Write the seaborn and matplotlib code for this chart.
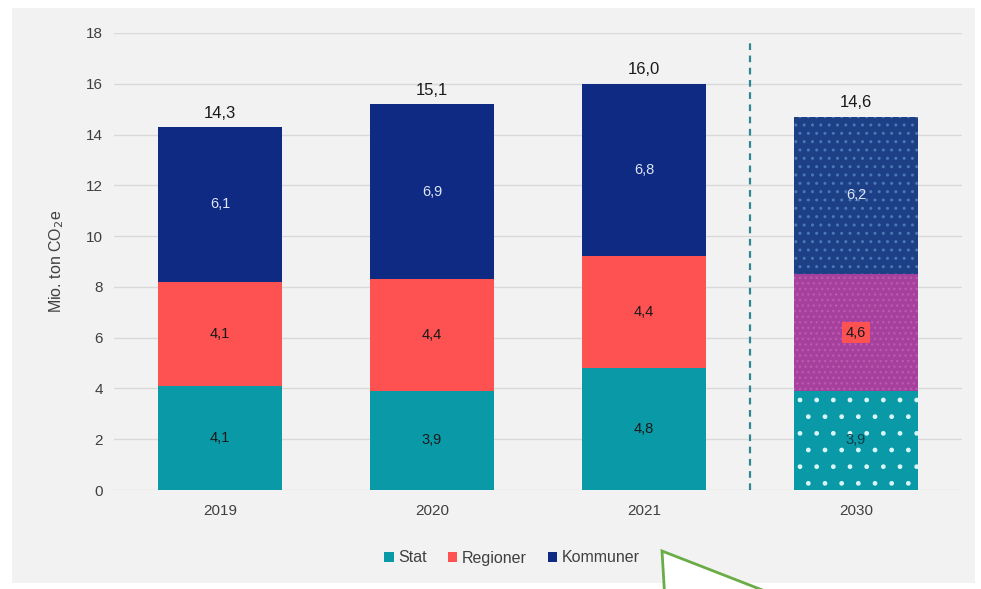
import matplotlib
matplotlib.use('Agg')
import pandas as pd
import matplotlib.pyplot as plt
import seaborn as sns
from matplotlib.patches import Patch, Rectangle, Polygon

# Data (Mio. ton CO2e)
years = ['2019', '2020', '2021', '2030']
stat = [4.1, 3.9, 4.8, 3.9]
regioner = [4.1, 4.4, 4.4, 4.6]
kommuner = [6.1, 6.9, 6.8, 6.2]
total_labels = ['14,3', '15,1', '16,0', '14,6']
series_names = ['Stat', 'Regioner', 'Kommuner']

c_stat = '#0a99a6'
c_reg = '#fe5252'
c_kom = '#0e2a82'
c_reg_2030 = '#a5409c'
c_kom_2030 = '#1d3f86'

df = pd.DataFrame({'year': years, 'stat': stat, 'regioner': regioner, 'kommuner': kommuner})
df['lvl1'] = df['stat']
df['lvl2'] = df['stat'] + df['regioner']
df['lvl3'] = df['lvl2'] + df['kommuner']

sns.set_style('white')
plt.rcParams['font.family'] = ['Liberation Sans', 'DejaVu Sans']

fig = plt.figure(figsize=(9.81, 5.89), dpi=100)
fig.patch.set_facecolor('white')
# grey panel behind the chart
fig.patches.append(Rectangle((12 / 981, 1 - 583 / 589), 963 / 981, 575 / 589,
                             transform=fig.transFigure, facecolor='#f2f2f2',
                             edgecolor='none', zorder=-10))

ax = fig.add_axes([114 / 981, 1 - 490 / 589, 848 / 981, 457 / 589])
ax.set_facecolor('none')

# stacked bars drawn as cumulative overlays (top level first)
layers = [('lvl3', c_kom, c_kom_2030), ('lvl2', c_reg, c_reg_2030), ('lvl1', c_stat, c_stat)]
conts = []
for col, c, c30 in layers:
    sns.barplot(data=df, x='year', y=col, color=c, width=0.585, saturation=1,
                ax=ax, zorder=2, linewidth=0)
    cont = ax.containers[-1]
    cont[3].set_facecolor(c30)
    conts.append(cont)

# dotted patterns for the 2030 target bar
plt.rcParams['hatch.linewidth'] = 1.2
conts[0][3].set_hatch('..')
conts[0][3].set_edgecolor('#4a78b4')
conts[0][3].set_linewidth(0)
conts[1][3].set_hatch('...')
conts[1][3].set_edgecolor('#bd58b0')
conts[1][3].set_linewidth(0)
conts[2][3].set_hatch('.')
conts[2][3].set_edgecolor('#d8f6f8')
conts[2][3].set_linewidth(0)

ax.set_ylim(0, 18)
ax.set_xlim(-0.5, 3.5)
ax.set_yticks(range(0, 19, 2))
ax.yaxis.grid(True, color='#d9d9d9', linewidth=1)
ax.set_axisbelow(True)
sns.despine(ax=ax, left=True, bottom=True)
ax.tick_params(length=0, labelsize=11, labelcolor='#404040', pad=8)
ax.tick_params(axis='x', pad=10)
ax.set_xlabel('')
ax.set_ylabel('Mio. ton CO$_2$e', fontsize=11.5, color='#404040', labelpad=14)

# segment and total labels
for i in range(len(years)):
    ax.text(i, stat[i] / 2, f'{stat[i]:.1f}'.replace('.', ','), ha='center', va='center',
            fontsize=10.5, color='#1a1a1a' if i < 3 else '#08404a', zorder=5)
    reg_kw = dict(ha='center', va='center', fontsize=10.5, color='#1a1a1a', zorder=5)
    if i == 3:
        reg_kw['bbox'] = dict(boxstyle='square,pad=0.25', facecolor=c_reg, edgecolor='none')
    ax.text(i, stat[i] + regioner[i] / 2, f'{regioner[i]:.1f}'.replace('.', ','), **reg_kw)
    ax.text(i, stat[i] + regioner[i] + kommuner[i] / 2, f'{kommuner[i]:.1f}'.replace('.', ','),
            ha='center', va='center', fontsize=10.5, color='#dfe6f5', zorder=5)
    ax.text(i, df['lvl3'][i] + 0.25, total_labels[i], ha='center', va='bottom',
            fontsize=12, color='#1a1a1a', zorder=5)

# dashed separator between history and target
ax.axvline(2.5, ymin=0, ymax=17.6 / 18, linestyle=(0, (3, 2.5)), color='#2f8793',
           linewidth=1.6, zorder=3)

handles = [Patch(facecolor=c, edgecolor='none') for c in (c_stat, c_reg, c_kom)]
fig.legend(handles, series_names, loc='center', bbox_to_anchor=(512 / 981, 1 - 558 / 589),
           ncol=3, frameon=False, fontsize=11.5, handlelength=0.6, handleheight=0.6,
           handletextpad=0.3, columnspacing=1.3, labelcolor='#404040')

# green callout shape overlapping the bottom edge
fig.patches.append(Polygon([(662 / 981, 1 - 551 / 589), (665 / 981, -0.02), (790 / 981, -0.02)],
                           closed=True, transform=fig.transFigure, facecolor='white',
                           edgecolor='#6aac46', linewidth=2, zorder=10))

fig.savefig('out.png', dpi=100)
